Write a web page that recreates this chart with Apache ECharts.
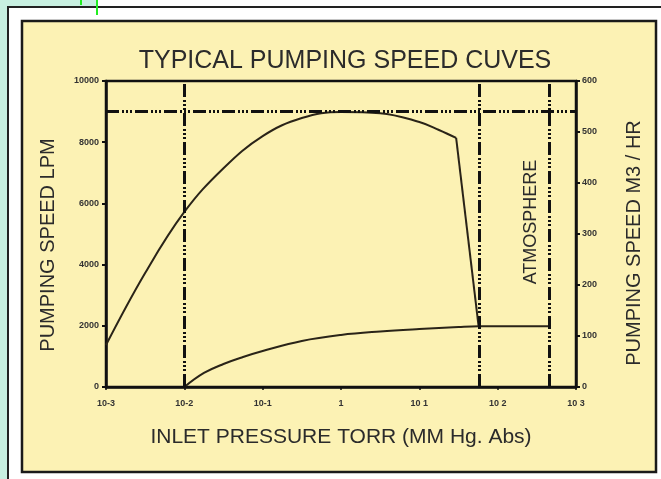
<!DOCTYPE html>
<html>
<head>
<meta charset="utf-8">
<script src="https://cdn.jsdelivr.net/npm/echarts@6/dist/echarts.min.js"></script>
<style>
html,body{margin:0;padding:0;background:#c8f0e1;}
#chart{width:661px;height:479px;}
</style>
</head>
<body>
<div id="chart"></div>
<script>
// ---- data ----
const xTickLabels = ['10-3', '10-2', '10-1', '1', '10 1', '10 2', '10 3'];
const pressureUpper = [0.001, 0.00316, 0.01, 0.0316, 0.1, 0.316, 1, 3.16, 10, 17.8, 29.5];
const speedUpper    = [1370, 3725, 5720, 7150, 8200, 8790, 8990, 8950, 8660, 8400, 8140];
const pressureDrop  = [29.5, 57];
const speedDrop     = [8140, 2000];
const pressureLower = [0.01, 0.0178, 0.0316, 0.0562, 0.1, 0.316, 1, 3.16, 10, 31.6, 58, 457];
const speedLower    = [0, 458, 752, 980, 1176, 1503, 1700, 1814, 1895, 1961, 1985, 1985];
const verticalRefs  = [0.01, 58, 457];
const horizontalRef = 9000;

const pair = (xs, ys) => xs.map((x, i) => [x, ys[i]]);
const chart = echarts.init(document.getElementById('chart'), null, {renderer: 'canvas'});
const ink = '#2a2418';
const dashDot = [13, 3, 2, 2, 2, 2, 2, 3];
const font = 'Liberation Sans, Arial, sans-serif';

chart.setOption({
  backgroundColor: '#c8f0e1',
  animation: false,
  title: {
    text: 'TYPICAL PUMPING SPEED CUVES',
    left: 340, top: 44, textAlign: 'center',
    textStyle: {fontFamily: font, fontSize: 25, fontWeight: 'normal', color: '#2b2b2b'}
  },
  graphic: [
    {type: 'rect', z: -10, shape: {x: 97, y: 0, width: 600, height: 8}, style: {fill: '#ffffff'}},
    {type: 'rect', z: -10, shape: {x: 8, y: 7, width: 700, height: 520}, style: {fill: '#ffffff', stroke: '#222', lineWidth: 2}},
    {type: 'rect', z: -9, shape: {x: 22, y: 21, width: 634, height: 451}, style: {fill: '#fcf2b4', stroke: '#1a1a1a', lineWidth: 2.5}},
    {type: 'line', z: -8, shape: {x1: 81, y1: 0, x2: 81, y2: 5}, style: {stroke: '#22ee22', lineWidth: 2}},
    {type: 'line', z: -8, shape: {x1: 97, y1: 0, x2: 97, y2: 15}, style: {stroke: '#22ee22', lineWidth: 2}},
    {type: 'text', x: 531, y: 222, rotation: Math.PI / 2, z: 10,
      style: {text: 'ATMOSPHERE', fontFamily: font, fontSize: 18, fill: '#2b2b2b', align: 'center', verticalAlign: 'middle'}}
  ],
  grid: {left: 106, right: 85, top: 81, bottom: 92, show: true, borderColor: '#111', borderWidth: 2.5, backgroundColor: 'transparent'},
  xAxis: {
    type: 'log', logBase: 10, min: 0.001, max: 1000,
    name: 'INLET PRESSURE TORR (MM Hg. Abs)', nameLocation: 'middle', nameGap: 40,
    nameTextStyle: {fontFamily: font, fontSize: 21, color: '#2b2b2b'},
    axisLine: {lineStyle: {color: '#111', width: 2.5}},
    axisTick: {show: true, length: 3, lineStyle: {color: '#111', width: 1.5}},
    axisLabel: {margin: 12, fontSize: 9, fontWeight: 'bold', color: '#333', fontFamily: font,
      formatter: v => xTickLabels[Math.round(Math.log10(v)) + 3]},
    minorTick: {show: false},
    splitLine: {show: false}
  },
  yAxis: [
    {
      type: 'value', min: 0, max: 10000, interval: 2000, position: 'left',
      name: 'PUMPING SPEED LPM', nameLocation: 'middle', nameGap: 48, nameRotate: 90,
      nameTextStyle: {fontFamily: font, fontSize: 20, color: '#2b2b2b', padding: [0, 22, 0, 0]},
      axisLine: {show: true, lineStyle: {color: '#111', width: 2.5}},
      axisTick: {show: true, length: 4, lineStyle: {color: '#111', width: 2}},
      axisLabel: {margin: 7, fontSize: 9, fontWeight: 'bold', color: '#333', fontFamily: font, formatter: v => String(v)},
      splitLine: {show: false}
    },
    {
      type: 'value', min: 0, max: 600, interval: 100, position: 'right',
      name: 'PUMPING SPEED M3 / HR', nameLocation: 'middle', nameGap: 48, nameRotate: 90,
      nameTextStyle: {fontFamily: font, fontSize: 20, color: '#2b2b2b', padding: [0, 18, 0, 0]},
      axisLine: {show: true, lineStyle: {color: '#111', width: 2.5}},
      axisTick: {show: true, length: 4, lineStyle: {color: '#111', width: 2}},
      axisLabel: {margin: 6, fontSize: 9, fontWeight: 'bold', color: '#333', fontFamily: font, formatter: v => String(v)},
      splitLine: {show: false}
    }
  ],
  series: [
    {
      type: 'line', data: pair(pressureUpper, speedUpper), smooth: 0.4,
      symbol: 'none', lineStyle: {color: ink, width: 2}, z: 3,
      markLine: {
        silent: true, symbol: ['none', 'none'], label: {show: false},
        lineStyle: {color: '#111', width: 3, type: dashDot},
        data: verticalRefs.map(v => ({xAxis: v})).concat([{yAxis: horizontalRef}])
      }
    },
    {
      type: 'line', data: pair(pressureDrop, speedDrop), smooth: false,
      symbol: 'none', lineStyle: {color: ink, width: 2}, z: 3
    },
    {
      type: 'line', data: pair(pressureLower, speedLower), smooth: 0.4,
      symbol: 'none', lineStyle: {color: ink, width: 2}, z: 3
    }
  ]
});
</script>
</body>
</html>
